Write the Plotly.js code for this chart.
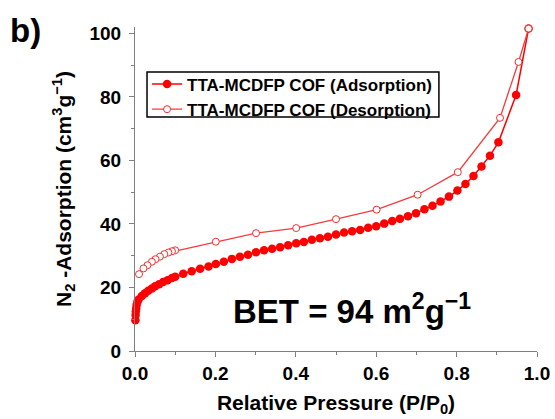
<!DOCTYPE html>
<html>
<head>
<meta charset="utf-8">
<script src="https://cdn.plot.ly/plotly-3.0.1.min.js"></script>
<style>
  html, body { margin: 0; padding: 0; background: #fff; }
  #chart { width: 555px; height: 419px; }
</style>
</head>
<body>
<div id="chart"></div>
<script>
// N2 sorption isotherm of TTA-MCDFP COF
const adsorptionLabel = 'TTA-MCDFP COF (Adsorption)';
const desorptionLabel = 'TTA-MCDFP COF (Desorption)';

const adsP = [0.001,0.0015,0.002,0.003,0.004,0.006,0.009,0.017,0.025,0.033,0.042,0.050,0.060,0.070,0.081,0.092,0.100,
  0.120,0.141,0.162,0.183,0.201,0.221,0.241,0.261,0.281,0.301,
  0.321,0.341,0.361,0.381,0.401,0.420,0.440,0.460,0.480,0.500,
  0.520,0.540,0.560,0.580,0.600,0.620,0.640,0.659,0.679,0.699,
  0.720,0.740,0.760,0.781,0.802,0.822,0.842,0.862,0.883,0.904,
  0.948,0.979];
const adsV = [9.7,11.3,12.4,13.4,14.5,15.5,16.2,17.3,18.2,19.0,19.7,20.4,21.0,21.7,22.3,23.0,23.4,
  24.3,25.1,25.9,26.6,27.4,28.1,29.0,29.7,30.3,31.1,
  31.7,32.2,32.7,33.3,33.9,34.3,35.0,35.5,36.0,36.7,
  37.3,37.7,38.1,38.8,39.3,40.1,40.9,41.6,42.4,43.4,
  44.6,45.7,47.1,48.6,50.5,52.6,55.1,58.1,61.5,65.7,
  80.6,101.5];

const desP = [0.979,0.954,0.908,0.803,0.703,0.601,0.500,0.401,0.301,0.201,0.100,0.092,0.083,0.073,0.062,0.051,0.042,0.031,0.021,0.010];
const desV = [101.5,91.0,73.4,56.3,49.2,44.5,41.5,38.7,37.1,34.4,31.7,31.4,31.0,30.5,29.7,28.9,28.1,27.0,26.0,24.2];

const xTicks = [0, 0.2, 0.4, 0.6, 0.8, 1.0];
const xTickText = ['0.0', '0.2', '0.4', '0.6', '0.8', '1.0'];
const yTicks = [0, 20, 40, 60, 80, 100];

const FONT = 'Liberation Sans, Arial, sans-serif';

const traces = [
  {
    x: adsP, y: adsV, name: adsorptionLabel,
    type: 'scatter', mode: 'lines+markers', cliponaxis: false,
    line: { color: '#ff0000', width: 1.5 },
    marker: { symbol: 'circle', size: 8.5, color: '#ff0000', line: { width: 0 } }
  },
  {
    x: desP, y: desV, name: desorptionLabel,
    type: 'scatter', mode: 'lines+markers', cliponaxis: false,
    line: { color: '#f53b3b', width: 1.3 },
    marker: { symbol: 'circle', size: 7, color: '#ffffff', line: { color: '#f03030', width: 1 } }
  }
];

const axisCommon = {
  showline: true, linecolor: '#808080', linewidth: 1,
  ticks: 'outside', ticklen: 5, tickcolor: '#808080', tickwidth: 1,
  showgrid: false, zeroline: false,
  tickfont: { family: FONT, size: 19, color: '#000', weight: 'bold' },
  minor: { ticks: 'outside', ticklen: 3, tickcolor: '#808080', showgrid: false }
};

const layout = {
  width: 555, height: 419,
  margin: { l: 135, r: 18, t: 27, b: 68 },
  paper_bgcolor: '#fff', plot_bgcolor: '#fff',
  showlegend: true,
  legend: {
    x: 0.03, y: 0.878, xanchor: 'left', yanchor: 'top',
    borderwidth: 0, bgcolor: 'rgba(0,0,0,0)',
    font: { family: FONT, size: 17, color: '#000', weight: 'bold' },
    tracegroupgap: 0
  },
  xaxis: Object.assign({}, axisCommon, {
    range: [0, 1],
    tickvals: xTicks, ticktext: xTickText,
    minor: Object.assign({}, axisCommon.minor, { dtick: 0.1, tick0: 0 }),
    title: { text: '<b>Relative Pressure (P/P<sub>0</sub>)</b>', font: { family: FONT, size: 21, color: '#000' }, standoff: 12 }
  }),
  yaxis: Object.assign({}, axisCommon, {
    range: [0, 102],
    tickvals: yTicks,
    ticklabelstandoff: 4,
    minor: Object.assign({}, axisCommon.minor, { dtick: 10, tick0: 0 }),
    title: { text: '<b>N<sub>2</sub> -Adsorption (cm<sup>3</sup>g<sup>\u22121</sup>)</b>', font: { family: FONT, size: 21, color: '#000' }, standoff: 12 }
  }),
  shapes: [
    // legend frame
    {
      type: 'rect', xref: 'paper', yref: 'paper',
      x0: 0.0299, x1: 0.756, y0: 0.722, y1: 0.861,
      line: { color: '#000', width: 1.5 }, fillcolor: 'rgba(0,0,0,0)', layer: 'above'
    }
  ],
  annotations: [
    {
      xref: 'paper', yref: 'paper', x: -0.315, y: 1.051, xanchor: 'left', yanchor: 'top',
      text: '<b>b)</b>', showarrow: false,
      font: { family: FONT, size: 33, color: '#000' }
    },
    {
      xref: 'x', yref: 'y', x: 0.54, y: 13.2, xanchor: 'center', yanchor: 'middle',
      text: '<b>BET = 94 m<sup>2</sup>g<sup>\u22121</sup></b>', showarrow: false,
      font: { family: FONT, size: 33, color: '#000' }
    }
  ]
};

Plotly.newPlot('chart', traces, layout, { displayModeBar: false, staticPlot: true });
</script>
</body>
</html>
